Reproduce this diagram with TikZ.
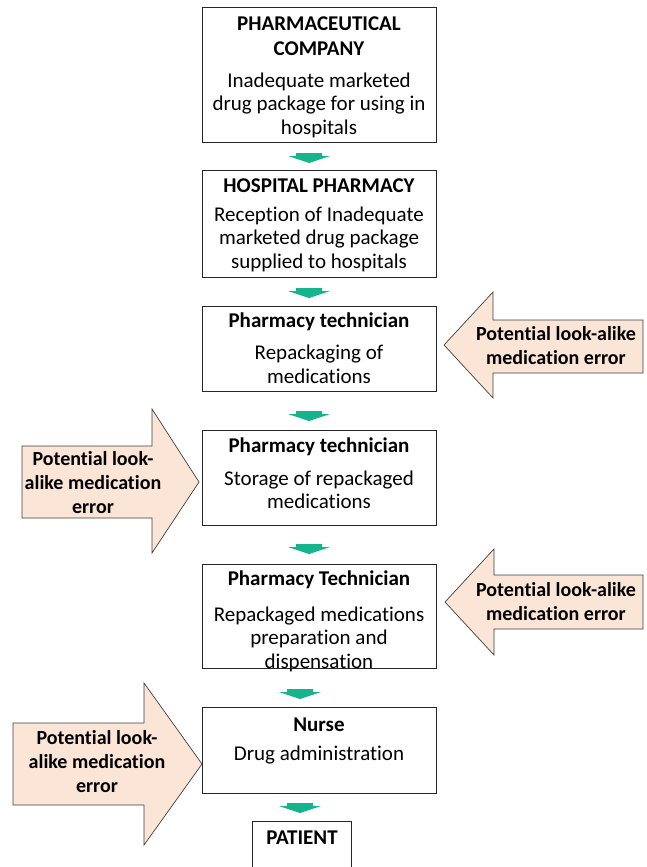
\documentclass[tikz,border=0pt]{standalone}
\usepackage{fontspec}
\setmainfont{Carlito}[Ligatures=NoCommon]
\definecolor{peach}{RGB}{251,229,214}
\definecolor{flowgreen}{RGB}{22,180,140}
\definecolor{edgegray}{RGB}{64,64,64}

\begin{document}
\begin{tikzpicture}[x=1pt, y=-1pt,
    stepbox/.style={draw=black!85, line width=0.8pt, minimum width=234pt, inner sep=0pt},
    boxtitle/.style={font=\fontsize{21}{24.5}\selectfont\bfseries, align=center, inner sep=0pt},
    boxtext/.style={font=\fontsize{21}{23.5}\selectfont, align=center, inner sep=0pt},
    warntext/.style={font=\fontsize{20}{24}\selectfont\bfseries, align=center, inner sep=0pt},
    warnarrow/.style={fill=peach, draw=edgegray, line width=0.7pt, line join=miter},
    flowarrow/.style={fill=flowgreen},
]
    \useasboundingbox (0,0) rectangle (646,867);

    % process boxes
    \node[stepbox, minimum height=135pt] (b1) at (319,74.5) {};
    \node[stepbox, minimum height=107pt] (b2) at (319,223.5) {};
    \node[stepbox, minimum height=85pt]  (b3) at (319,348.5) {};
    \node[stepbox, minimum height=95pt]  (b4) at (319,477.5) {};
    \node[stepbox, minimum height=104pt] (b5) at (319,616) {};
    \node[stepbox, minimum height=86pt]  (b6) at (319,750) {};
    \node[minimum width=98pt, minimum height=45pt, inner sep=0pt] (b7) at (302,844.5) {};
    \draw[draw=black!85, line width=0.8pt] (b7.south west) |- (b7.north east) -- (b7.south east);

    \node[boxtitle] (t1) at (319,36)  {PHARMACEUTICAL\\COMPANY};
    \node[boxtext]  (d1) at (319,105) {Inadequate marketed\\drug package for using in\\hospitals};
    \node[boxtitle] (t2) at (319,186) {HOSPITAL PHARMACY};
    \node[boxtext]  (d2) at (319,239) {Reception of Inadequate\\marketed drug package\\supplied to hospitals};
    \node[boxtitle] (t3) at (319,322) {Pharmacy technician};
    \node[boxtext]  (d3) at (319,364.5) {Repackaging of\\medications};
    \node[boxtitle] (t4) at (319,447) {Pharmacy technician};
    \node[boxtext]  (d4) at (319,490) {Storage of repackaged\\medications};
    \node[boxtitle] (t5) at (319,580) {Pharmacy Technician};
    \node[boxtext]  (d5) at (319,639) {Repackaged medications\\preparation and\\dispensation};
    \node[boxtitle] (t6) at (319,725) {Nurse};
    \node[boxtext]  (d6) at (319,755) {Drug administration};
    \node[boxtitle] (t7) at (302,838) {PATIENT};

    % small green arrows between the steps
    \foreach \g/\cx/\ty in {g1/309/153, g2/309/288, g3/309/411, g4/309/544, g5/300/689, g6/300/803} {
        \coordinate (\g) at (\cx,\ty);
        \fill[flowarrow] (\g) ++(-13,0) -- ++(26,0) -- ++(0,3) -- ++(8,0) -- ++(-21,7) -- ++(-21,-7) -- ++(8,0) -- cycle;
    }

    % look-alike error arrows
    \filldraw[warnarrow] (643,320) -- (493,320) -- (493,292) -- (444,345) -- (493,398) -- (493,373) -- (643,373) -- cycle;
    \node[warntext] (w1) at (556,345.5) {Potential look-alike\\medication error};

    \filldraw[warnarrow] (22,446) -- (152,446) -- (152,409) -- (199,482) -- (152,553) -- (152,518) -- (22,518) -- cycle;
    \node[warntext] (w2) at (93,483) {Potential look-\\alike medication\\error};

    \filldraw[warnarrow] (643,575) -- (494,575) -- (494,549) -- (445,602) -- (494,655) -- (494,629) -- (643,629) -- cycle;
    \node[warntext] (w3) at (556,601.5) {Potential look-alike\\medication error};

    \filldraw[warnarrow] (13,723) -- (144,723) -- (144,683) -- (202,764) -- (144,845) -- (144,805) -- (13,805) -- cycle;
    \node[warntext] (w4) at (97,762) {Potential look-\\alike medication\\error};
\end{tikzpicture}
\end{document}
